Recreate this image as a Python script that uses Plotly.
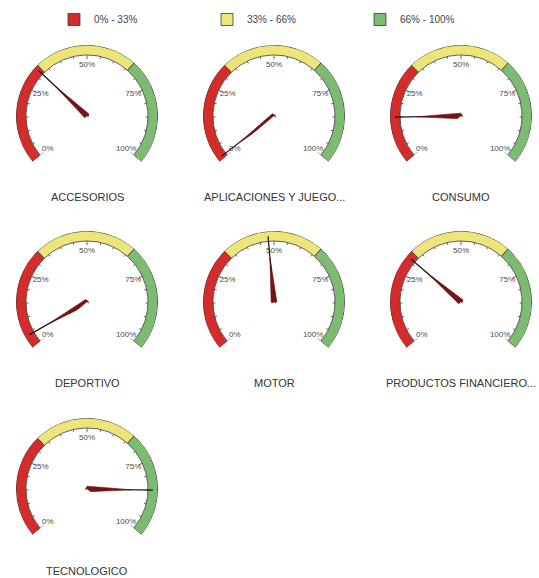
import plotly.graph_objects as go

# Gauge data
categories = ["ACCESORIOS", "APLICACIONES Y JUEGO...", "CONSUMO",
              "DEPORTIVO", "MOTOR", "PRODUCTOS FINANCIERO...", "TECNOLOGICO"]
values = [32, 1, 15, 4, 48, 31, 85]

# Colour bands (percent ranges)
band_names = ["0% - 33%", "33% - 66%", "66% - 100%"]
band_starts = [0, 33, 66]
band_ends = [33, 66, 100]
band_colors = ["#d42b2b", "#ede47a", "#7dba72"]

tick_values = [0, 25, 50, 75, 100]
tick_labels = ["0%", "25%", "50%", "75%", "100%"]
minor_step = 5

# Gauge sweep: 260 degrees, clockwise from lower left
SWEEP = 260.0
DEG = SWEEP / 100.0
ROTATION = 90 + SWEEP / 2

W, H = 539, 578
R_PX = 71
col_cx = [87, 274, 461]
row_cy = [116, 302, 489]
title_y = [197, 383, 571]

BAND_IN, BAND_OUT = 0.86, 1.0

fig = go.Figure()

for i, (name, val) in enumerate(zip(categories, values)):
    pid = "polar" if i == 0 else f"polar{i + 1}"
    sub = pid
    row, col = divmod(i, 3)
    cx, cy = col_cx[col], row_cy[row]

    # colour bands
    for j in range(3):
        s, e = band_starts[j], band_ends[j]
        fig.add_trace(go.Barpolar(
            r=[BAND_OUT - BAND_IN], base=[BAND_IN],
            theta=[(s + e) / 2 * DEG], width=[(e - s) * DEG],
            marker=dict(color=band_colors[j], line=dict(color="#3a3a3a", width=0.8)),
            name=band_names[j], legendgroup=band_names[j],
            showlegend=(i == 0), subplot=sub, hoverinfo="skip"))

    # tick marks
    tr, tt = [], []
    for p in range(0, 101, minor_step):
        inner = 0.80 if p in tick_values else 0.825
        tr += [BAND_IN, inner, None]
        tt += [p * DEG, p * DEG, None]
    fig.add_trace(go.Scatterpolar(
        r=tr, theta=tt, mode="lines", line=dict(color="#555555", width=0.9),
        showlegend=False, subplot=sub, hoverinfo="skip"))

    # tick labels
    fig.add_trace(go.Scatterpolar(
        r=[0.72] * len(tick_values), theta=[p * DEG for p in tick_values],
        text=tick_labels, mode="text",
        textfont=dict(family="Liberation Sans", size=8, color="#4a4a4a"),
        showlegend=False, subplot=sub, hoverinfo="skip"))

    # needle: thin black pointer plus tapered dark red body
    th = val * DEG
    fig.add_trace(go.Scatterpolar(
        r=[0.2, 0.93], theta=[th, th], mode="lines",
        line=dict(color="#111111", width=1.2),
        showlegend=False, subplot=sub, hoverinfo="skip"))
    fig.add_trace(go.Scatterpolar(
        r=[0.04, 0.62, 0.04, 0.02, 0.04], theta=[th - 90, th, th + 90, th + 180, th - 90],
        mode="lines", fill="toself", fillcolor="#7a1212",
        line=dict(color="#5a0c0c", width=0.6),
        showlegend=False, subplot=sub, hoverinfo="skip"))

    h_px = R_PX * (1 + 0.6428)
    x0, x1 = (cx - R_PX) / W, (cx + R_PX) / W
    ytop = cy - R_PX
    y0, y1 = 1 - (ytop + h_px) / H, 1 - ytop / H
    fig.layout[pid] = dict(
        domain=dict(x=[x0, x1], y=[y0, y1]),
        sector=[90 - SWEEP / 2, 90 + SWEEP / 2],
        bgcolor="rgba(0,0,0,0)",
        radialaxis=dict(range=[0, 1], visible=False),
        angularaxis=dict(rotation=ROTATION, direction="clockwise",
                         visible=False, showgrid=False, showline=False,
                         ticks=""),
    )

    fig.add_annotation(
        x=cx / W, y=1 - title_y[row] / H, xref="paper", yref="paper",
        text=name, showarrow=False, xanchor="center", yanchor="middle",
        font=dict(family="Liberation Sans", size=11, color="#333333"))

fig.update_layout(
    width=W, height=H,
    margin=dict(l=0, r=0, t=0, b=0),
    paper_bgcolor="white", plot_bgcolor="white",
    legend=dict(orientation="h", x=0.5 + 14 / W, xanchor="center", y=1 - 5 / H,
                yanchor="top", entrywidth=108, itemwidth=30,
                font=dict(family="Liberation Sans", size=10, color="#444444")),
    barmode="overlay",
)

fig.write_html("out.html")
